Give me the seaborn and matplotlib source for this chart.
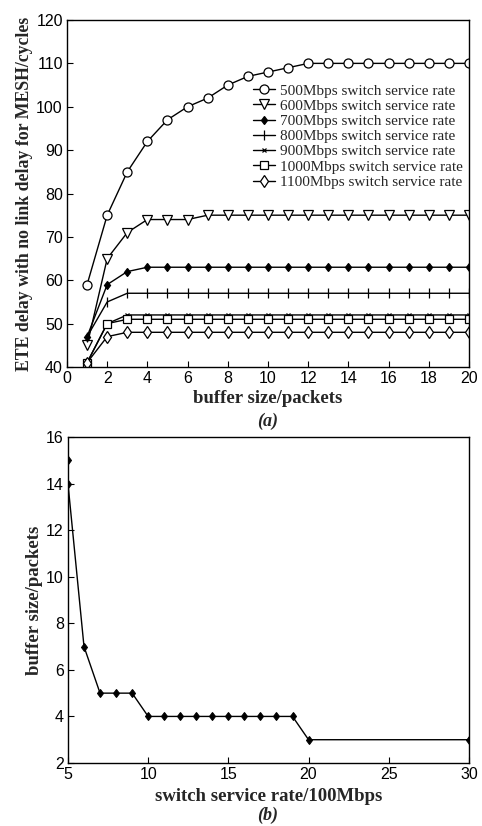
import matplotlib
matplotlib.use("Agg")
import matplotlib.pyplot as plt
import seaborn as sns
import pandas as pd

sns.set_theme(style="white")
plt.rcParams['font.family'] = ['Liberation Sans', 'DejaVu Sans']

# ---- data (a) ----
buffer_size = list(range(1, 21))
labels_a = ["500Mbps switch service rate", "600Mbps switch service rate",
            "700Mbps switch service rate", "800Mbps switch service rate",
            "900Mbps switch service rate", "1000Mbps switch service rate",
            "1100Mbps switch service rate"]
delay_500 = [59, 75, 85, 92, 97, 100, 102, 105, 107, 108, 109, 110, 110, 110, 110, 110, 110, 110, 110, 110]
delay_600 = [45, 65, 71, 74, 74, 74, 75, 75, 75, 75, 75, 75, 75, 75, 75, 75, 75, 75, 75, 75]
delay_700 = [47, 59, 62, 63, 63, 63, 63, 63, 63, 63, 63, 63, 63, 63, 63, 63, 63, 63, 63, 63]
delay_800 = [47, 55, 57, 57, 57, 57, 57, 57, 57, 57, 57, 57, 57, 57, 57, 57, 57, 57, 57, 57]
delay_900 = [41, 50, 52, 52, 52, 52, 52, 52, 52, 52, 52, 52, 52, 52, 52, 52, 52, 52, 52, 52]
delay_1000 = [41, 50, 51, 51, 51, 51, 51, 51, 51, 51, 51, 51, 51, 51, 51, 51, 51, 51, 51, 51]
delay_1100 = [41, 47, 48, 48, 48, 48, 48, 48, 48, 48, 48, 48, 48, 48, 48, 48, 48, 48, 48, 48]
series_a = [delay_500, delay_600, delay_700, delay_800, delay_900, delay_1000, delay_1100]

# ---- data (b) ----
rate_b = [5, 5, 6, 7, 8, 9, 10, 11, 12, 13, 14, 15, 16, 17, 18, 19, 20, 30]
buffer_b = [15, 14, 7, 5, 5, 5, 4, 4, 4, 4, 4, 4, 4, 4, 4, 4, 3, 3]

styles = [
    dict(marker='o', markersize=6.5, markerfacecolor='white'),
    dict(marker='v', markersize=6.5, markerfacecolor='white'),
    dict(marker='d', markersize=4.5, markerfacecolor='black'),
    dict(marker='|', markersize=7, markerfacecolor='black'),
    dict(marker='x', markersize=3, markerfacecolor='black'),
    dict(marker='s', markersize=6, markerfacecolor='white'),
    dict(marker='d', markersize=6.5, markerfacecolor='white'),
]

fig = plt.figure(figsize=(4.82, 8.26), dpi=100)
ax1 = fig.add_axes([0.139, 1 - 367 / 826, 402 / 482, 347 / 826])
ax2 = fig.add_axes([0.141, 1 - 763 / 826, 401 / 482, 326 / 826])

serif = ['Liberation Serif', 'DejaVu Serif']

for lab, vals, st in zip(labels_a, series_a, styles):
    df = pd.DataFrame({"x": buffer_size, "y": vals})
    sns.lineplot(data=df, x="x", y="y", ax=ax1, color='black', linewidth=1.0,
                 markeredgecolor='black', markeredgewidth=0.9, label=lab, **st)

ax1.set_xlim(0, 20)
ax1.set_ylim(40, 120)
ax1.set_xticks(range(0, 21, 2))
ax1.set_yticks(range(40, 121, 10))
ax1.set_xlabel("buffer size/packets", family=serif, fontsize=13.5, fontweight='bold', labelpad=3)
ax1.set_ylabel("ETE delay with no link delay for MESH/cycles", family=serif, fontsize=12.8,
               fontweight='bold', labelpad=2)
leg = ax1.legend(loc='upper right', bbox_to_anchor=(0.985, 0.816), frameon=False,
                 prop=dict(family=serif, size=11), handlelength=1.4, handletextpad=0.35,
                 labelspacing=0.1, borderaxespad=0, borderpad=0)

df_b = pd.DataFrame({"x": rate_b, "y": buffer_b})
sns.lineplot(data=df_b, x="x", y="y", ax=ax2, color='black', linewidth=1.0, marker='d',
             markersize=4.5, markerfacecolor='black', markeredgecolor='black',
             sort=False, estimator=None)
ax2.set_xlim(5, 30)
ax2.set_ylim(2, 16)
ax2.set_xticks(range(5, 31, 5))
ax2.set_yticks(range(2, 17, 2))
ax2.set_xlabel("switch service rate/100Mbps", family=serif, fontsize=13.5, fontweight='bold', labelpad=4)
ax2.set_ylabel("buffer size/packets", family=serif, fontsize=13.5, fontweight='bold', labelpad=2)

for ax in (ax1, ax2):
    for s in ax.spines.values():
        s.set_color('black')
        s.set_linewidth(1.0)
    ax.tick_params(axis='both', direction='in', length=4, width=0.8, colors='black',
                   labelsize=11.5, bottom=True, left=True, pad=3)

fig.text(0.556, 1 - 421 / 826, "(a)", family=serif, fontsize=13, fontweight='bold',
         fontstyle='italic', ha='center', va='center')
fig.text(0.556, 1 - 815 / 826, "(b)", family=serif, fontsize=13, fontweight='bold',
         fontstyle='italic', ha='center', va='center')

fig.savefig("out.png", dpi=100, facecolor='white')
